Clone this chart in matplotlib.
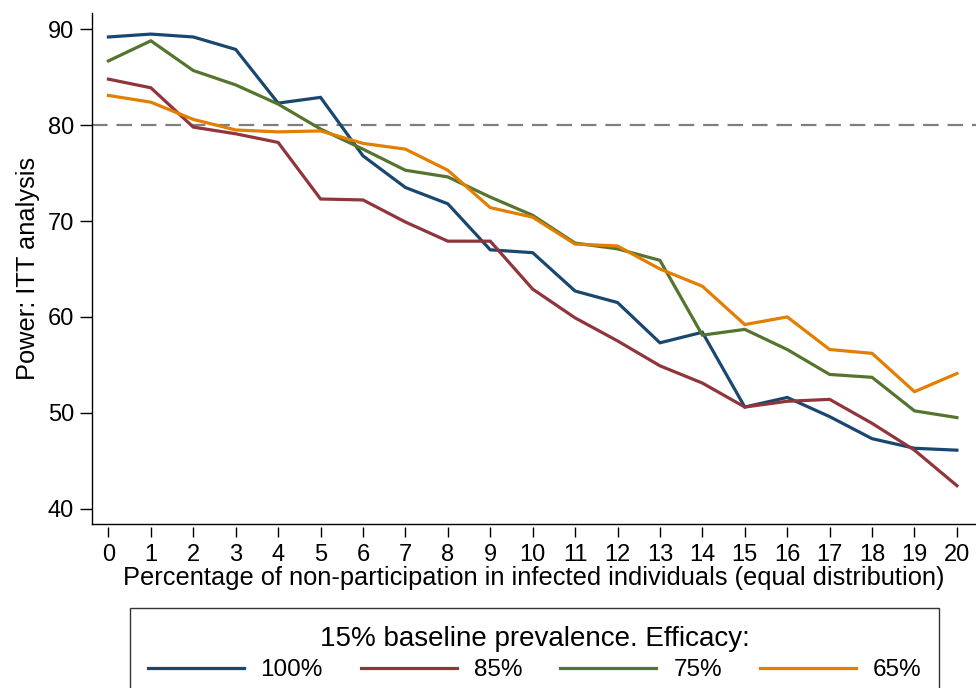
import matplotlib
matplotlib.use("Agg")
import matplotlib.pyplot as plt

x = list(range(0, 21))
labels = ["100%", "85%", "75%", "65%"]
colors = ["#1a476f", "#90353b", "#55752f", "#e37e00"]

eff_100 = [89.2, 89.5, 89.2, 87.9, 82.3, 82.9, 76.8, 73.5, 71.8, 67.0, 66.7,
           62.7, 61.5, 57.3, 58.4, 50.6, 51.6, 49.6, 47.3, 46.3, 46.1]
eff_85 = [84.8, 83.9, 79.8, 79.1, 78.2, 72.3, 72.2, 69.9, 67.9, 67.9, 62.9,
          59.9, 57.5, 54.9, 53.1, 50.6, 51.2, 51.4, 48.9, 46.1, 42.4]
eff_75 = [86.7, 88.8, 85.7, 84.2, 82.2, 79.6, 77.5, 75.3, 74.6, 72.5, 70.6,
          67.7, 67.1, 65.9, 58.1, 58.7, 56.6, 54.0, 53.7, 50.2, 49.5]
eff_65 = [83.1, 82.4, 80.6, 79.5, 79.3, 79.4, 78.1, 77.5, 75.3, 71.4, 70.4,
          67.6, 67.4, 65.0, 63.2, 59.2, 60.0, 56.6, 56.2, 52.2, 54.1]
series = [eff_100, eff_85, eff_75, eff_65]

yticks = [40, 50, 60, 70, 80, 90]
ref_line = 80

plt.rcParams['font.family'] = ['Liberation Sans', 'DejaVu Sans']
tick_fs = 17
label_fs = 18.3
leg_fs = 17.5
title_fs = 20

fig = plt.figure(figsize=(9.76, 6.88), dpi=100)
ax = fig.add_axes([92.3/976, 1-524/688, 1-92.3/976, (524-13)/688])

ax.axhline(ref_line, color="#7f7f7f", lw=1.6, dashes=(7, 4), zorder=1)
handles = []
for vals, c, lab in zip(series, colors, labels):
    h, = ax.plot(x, vals, color=c, lw=2.3, label=lab, zorder=3, solid_joinstyle='miter')
    handles.append(h)

ax.set_xlim(-0.38, 20.45)
ax.set_ylim(38.4, 91.7)
ax.set_xticks(x)
ax.set_yticks(yticks)
ax.tick_params(axis='both', labelsize=tick_fs, width=1.0, length=7, direction='out', color='black')
ax.tick_params(axis='x', pad=5)
ax.tick_params(axis='y', length=9, pad=4)

for s in ['top', 'right']:
    ax.spines[s].set_visible(False)
ax.spines['left'].set_linewidth(1.0)
ax.spines['bottom'].set_position(('outward', 2.5))
ax.spines['bottom'].set_visible(False)
ax.plot([0, 1], [0, 0], transform=ax.transAxes, color='black', lw=1.0, clip_on=False, zorder=5)

ax.set_xlabel("Percentage of non-participation in infected individuals (equal distribution)",
              fontsize=label_fs, labelpad=0)
ax.set_ylabel("Power: ITT analysis", fontsize=label_fs, labelpad=6)

leg = fig.legend(handles=handles, labels=labels, ncol=4, loc='upper center',
                 bbox_to_anchor=(534.5/976, 1-608/688), fontsize=leg_fs,
                 title="15% baseline prevalence. Efficacy:", title_fontsize=title_fs,
                 frameon=True, fancybox=False, edgecolor='black',
                 handlelength=3.95, handletextpad=0.7, columnspacing=1.56,
                 borderpad=0.74, borderaxespad=0, labelspacing=0.3)
leg.get_frame().set_linewidth(1.0)

fig.savefig("out.png", dpi=100)
